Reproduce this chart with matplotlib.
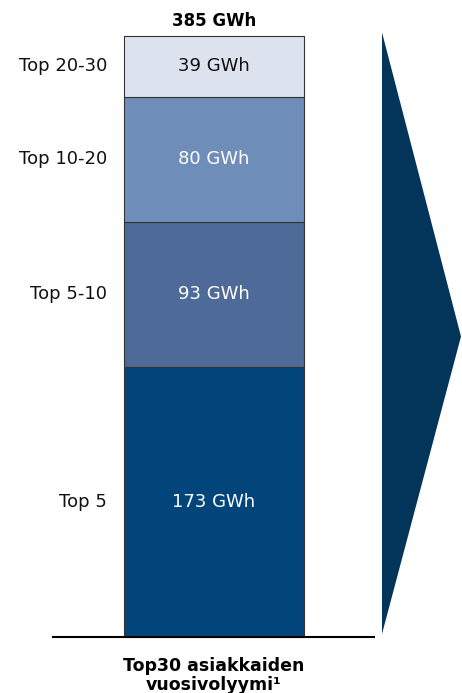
import matplotlib.pyplot as plt
from matplotlib.patches import Polygon

# DATA
segments = ['Top 5', 'Top 5-10', 'Top 10-20', 'Top 20-30']
volumes = [173, 93, 80, 39]
value_labels = ['173 GWh', '93 GWh', '80 GWh', '39 GWh']
total_label = '385 GWh'
bottom_label = 'Top30 asiakkaiden\nvuosivolyymi¹'

colors = ['#02457a', '#4e6a98', '#6f8db9', '#dde3ee']
text_colors = ['white', 'white', 'white', '#111111']

# layout in pixels (figure is 462x693)
W, H = 462, 693
y_base_px, y_top_px = 637, 36
total = sum(volumes)
px_per = (y_base_px - y_top_px) / total

fig = plt.figure(figsize=(W / 100, H / 100), dpi=100)
ax = fig.add_axes([0, 0, 1, 1])
ax.set_xlim(0, W)
ax.set_ylim(-(H - y_base_px) / px_per, total + y_top_px / px_per)
ax.axis('off')

font = 'DejaVu Sans'
bar_x, bar_w = 214, 180
bottom = 0
for name, v, lab, c, tc in zip(segments, volumes, value_labels, colors, text_colors):
    ax.bar(bar_x, v, width=bar_w, bottom=bottom, color=c, edgecolor='#333333', linewidth=0.8)
    ax.text(bar_x, bottom + v / 2, lab, ha='center', va='center', color=tc, fontsize=13, family=font)
    ax.text(107, bottom + v / 2, name, ha='right', va='center', color='#111111', fontsize=13, family=font)
    bottom += v

ax.text(bar_x, total + 4, total_label, ha='center', va='bottom', fontsize=12, fontweight='bold', family=font)

# baseline
ax.plot([52, 375], [0, 0], color='black', lw=1.5, solid_capstyle='butt')

# arrow
arrow = Polygon([(382, total * 1.006), (461, total / 2), (382, total * 0.005)],
                closed=True, color='#033459', lw=0)
ax.add_patch(arrow)

ax.text(bar_x, -12.5, bottom_label, ha='center', va='top', fontsize=12.5, fontweight='bold',
        family=font, linespacing=1.1)

fig.savefig('out.png', dpi=100)
